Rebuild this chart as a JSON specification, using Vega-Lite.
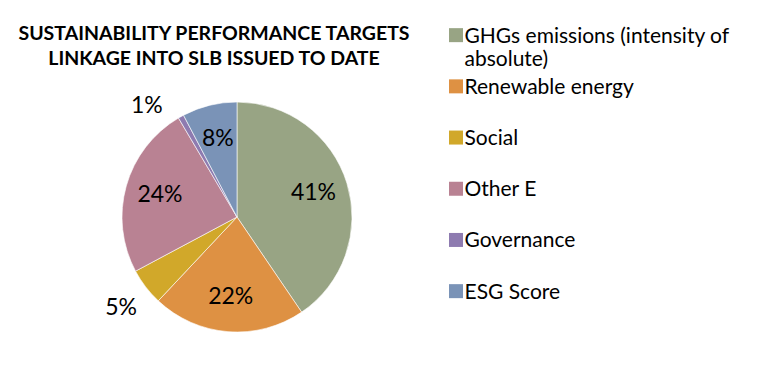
{
  "$schema": "https://vega.github.io/schema/vega-lite/v6.json",
  "width": 240,
  "height": 240,
  "autosize": {"type": "none"},
  "padding": {"left": 117, "top": 97, "right": 409, "bottom": 33},
  "background": "white",
  "config": {"view": {"stroke": null}, "font": "Lato"},
  "title": {
    "text": ["SUSTAINABILITY PERFORMANCE TARGETS", "LINKAGE INTO SLB ISSUED TO DATE"],
    "font": "Lato",
    "fontSize": 19.5,
    "fontWeight": "bold",
    "color": "black",
    "anchor": "middle",
    "lineHeight": 25,
    "dx": -23,
    "dy": 41,
    "offset": 4
  },
  "data": {
    "values": [
      {"idx": 1, "category": "GHGs emissions (intensity of absolute)", "value": 40.5, "label": "41%"},
      {"idx": 2, "category": "Renewable energy", "value": 21.5, "label": "22%"},
      {"idx": 3, "category": "Social", "value": 5.2, "label": "5%"},
      {"idx": 4, "category": "Other E", "value": 24.3, "label": "24%"},
      {"idx": 5, "category": "Governance", "value": 0.8, "label": "1%"},
      {"idx": 6, "category": "ESG Score", "value": 7.7, "label": "8%"}
    ]
  },
  "encoding": {
    "theta": {"field": "value", "type": "quantitative", "stack": true},
    "order": {"field": "idx", "type": "quantitative"}
  },
  "layer": [
    {
      "mark": {"type": "arc", "outerRadius": 115, "stroke": "white", "strokeWidth": 0.6},
      "encoding": {
        "color": {
          "field": "category",
          "type": "nominal",
          "sort": ["GHGs emissions (intensity of absolute)", "Renewable energy", "Social", "Other E", "Governance", "ESG Score"],
          "scale": {
            "domain": ["GHGs emissions (intensity of absolute)", "Renewable energy", "Social", "Other E", "Governance", "ESG Score"],
            "range": ["#98A484", "#DE9143", "#D1A82A", "#B98293", "#8E7BB0", "#7A93B7"]
          },
          "legend": {
            "orient": "none",
            "legendX": 328.5,
            "legendY": -65,
            "title": null,
            "padding": 0,
            "symbolType": "M-1,-2.05H1V-0.05H-1Z",
            "symbolSize": 196,
            "symbolStrokeWidth": 0,
            "labelFont": "Lato",
            "labelFontSize": 21,
            "labelColor": "black",
            "labelBaseline": "alphabetic",
            "labelLineHeight": 25,
            "labelOffset": -2,
            "labelLimit": 400,
            "rowPadding": 6.2,
            "labelExpr": "datum.label == 'GHGs emissions (intensity of absolute)' ? ['GHGs emissions (intensity of', 'absolute)'] : [datum.label, '']"
          }
        }
      }
    },
    {
      "mark": {"type": "text", "radius": 80, "fontSize": 23, "font": "Lato", "color": "black"},
      "encoding": {
        "text": {"condition": {"test": "datum.value >= 6", "field": "label", "type": "nominal"}, "value": ""}
      }
    },
    {
      "mark": {"type": "text", "radius": 146, "dy": 2, "fontSize": 23, "font": "Lato", "color": "black"},
      "encoding": {
        "text": {"condition": {"test": "datum.value >= 2 && datum.value < 6", "field": "label", "type": "nominal"}, "value": ""}
      }
    },
    {
      "mark": {"type": "text", "radius": 142, "dx": -21, "dy": 13, "fontSize": 23, "font": "Lato", "color": "black"},
      "encoding": {
        "text": {"condition": {"test": "datum.value < 2", "field": "label", "type": "nominal"}, "value": ""}
      }
    }
  ]
}
